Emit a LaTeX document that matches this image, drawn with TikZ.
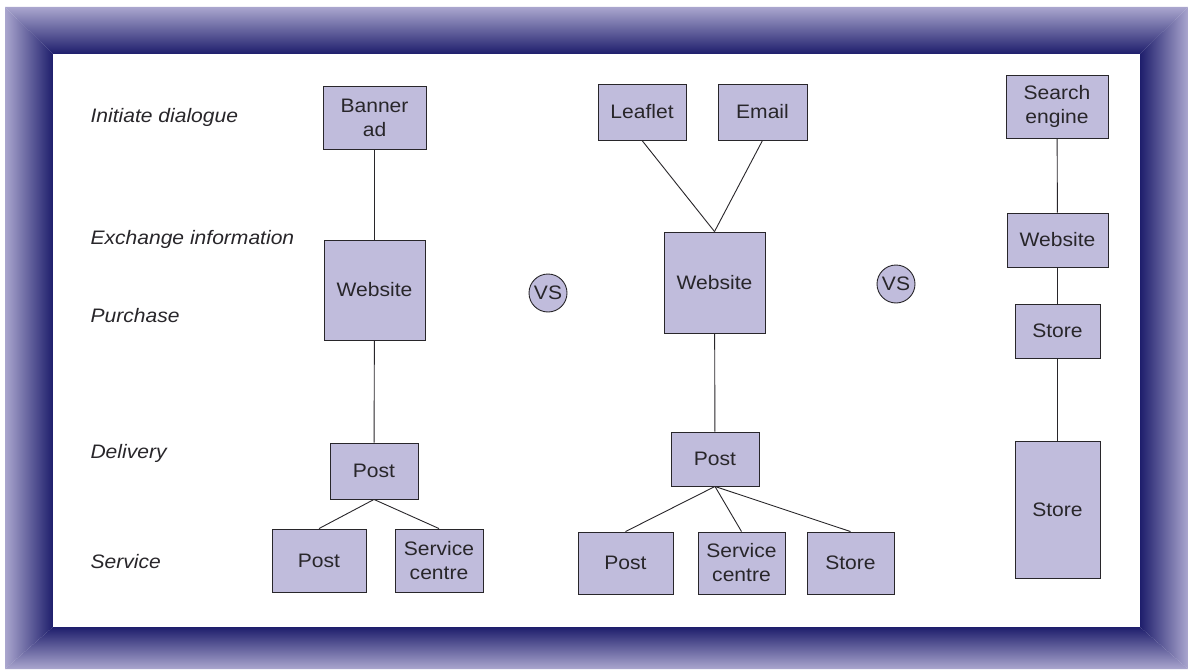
\documentclass[tikz,border=0pt]{standalone}
\usepackage{fontspec}
\setmainfont{Liberation Sans}[FakeStretch=1.08]
\definecolor{navy}{RGB}{30,30,108}
\definecolor{lav}{RGB}{170,166,206}
\definecolor{boxfill}{RGB}{192,188,220}
\definecolor{ink}{RGB}{40,38,42}
\begin{document}
\begin{tikzpicture}[x=1pt,y=-1pt,
  every node/.style={font=\fontsize{19.5}{24}\selectfont, text=ink},
  bx/.style={draw=ink, fill=boxfill, line width=0.9pt, inner sep=0pt, align=center},
  vs/.style={circle, draw=ink, fill=boxfill, line width=0.9pt, minimum size=38pt, inner sep=0pt},
  lbl/.style={anchor=base west, font=\fontsize{19.5}{24}\selectfont\itshape},
  conn/.style={draw=ink, line width=0.9pt}]
\useasboundingbox (0,0) rectangle (1188,669);
% frame
\begin{scope}
\clip (5,7) -- (1188,7) -- (1140,54) -- (53,54) -- cycle;
\shade[top color=lav, bottom color=navy] (5,7) rectangle (1188,54);
\end{scope}
\begin{scope}
\clip (5,7) -- (53,54) -- (53,627) -- (5,669) -- cycle;
\shade[left color=lav, right color=navy] (5,7) rectangle (53,669);
\end{scope}
\begin{scope}
\clip (1188,7) -- (1188,669) -- (1140,627) -- (1140,54) -- cycle;
\shade[left color=navy, right color=lav] (1140,7) rectangle (1188,669);
\end{scope}
\begin{scope}
\clip (5,669) -- (53,627) -- (1140,627) -- (1188,669) -- cycle;
\shade[top color=navy, bottom color=lav] (5,627) rectangle (1188,669);
\end{scope}
\fill[white] (53,54) rectangle (1140,627);
% labels
\node[lbl] (l1) at (87,122) {Initiate dialogue};
\node[lbl] (l2) at (87,244) {Exchange information};
\node[lbl] (l3) at (87,322) {Purchase};
\node[lbl] (l4) at (87,458) {Delivery};
\node[lbl] (l5) at (87,568) {Service};
% column 1
\node[bx, minimum width=103pt, minimum height=63pt] (banner) at (374.5,117.5) {Banner\\ad};
\node[bx, minimum width=101pt, minimum height=100pt] (web1) at (374.5,290) {Website};
\node[bx, minimum width=88pt, minimum height=56pt] (post1) at (374,471) {Post};
\node[bx, minimum width=94pt, minimum height=63pt] (post1b) at (319,560.5) {Post};
\node[bx, minimum width=88pt, minimum height=63pt] (svc1) at (439,560.5) {Service\\centre};
\draw[conn] (banner) -- (web1);
\draw[conn] (web1) -- (post1);
\draw[conn] (post1.south) -- (post1b.north);
\draw[conn] (post1.south) -- (svc1.north);
% column 2
\node[bx, minimum width=88pt, minimum height=56pt] (leaf) at (642,112) {Leaflet};
\node[bx, minimum width=89pt, minimum height=56pt] (email) at (762.5,112) {Email};
\node[bx, minimum width=101pt, minimum height=101pt] (web2) at (714.5,282.5) {Website};
\node[bx, minimum width=88pt, minimum height=54pt] (post2) at (715,459) {Post};
\node[bx, minimum width=95pt, minimum height=62pt] (post2b) at (625.5,563) {Post};
\node[bx, minimum width=87pt, minimum height=62pt] (svc2) at (741.5,563) {Service\\centre};
\node[bx, minimum width=87pt, minimum height=62pt] (store2) at (850.5,563) {Store};
\draw[conn] (leaf.south) -- (web2.north);
\draw[conn] (email.south) -- (web2.north);
\draw[conn] (web2) -- (post2);
\draw[conn] (post2.south) -- (post2b.north);
\draw[conn] (post2.south) -- (svc2.north);
\draw[conn] (post2.south) -- (store2.north);
% column 3
\node[bx, minimum width=102pt, minimum height=63pt] (search) at (1057,106.5) {Search\\engine};
\node[bx, minimum width=101pt, minimum height=54pt] (web3) at (1057.5,240) {Website};
\node[bx, minimum width=85pt, minimum height=54pt] (store3a) at (1057.5,331) {Store};
\node[bx, minimum width=85pt, minimum height=137pt] (store3b) at (1057.5,509.5) {Store};
\draw[conn] (search) -- (web3);
\draw[conn] (web3) -- (store3a);
\draw[conn] (store3a) -- (store3b);
% vs
\node[vs] (vs1) at (548,293) {VS};
\node[vs] (vs2) at (896,284) {VS};
\end{tikzpicture}
\end{document}
